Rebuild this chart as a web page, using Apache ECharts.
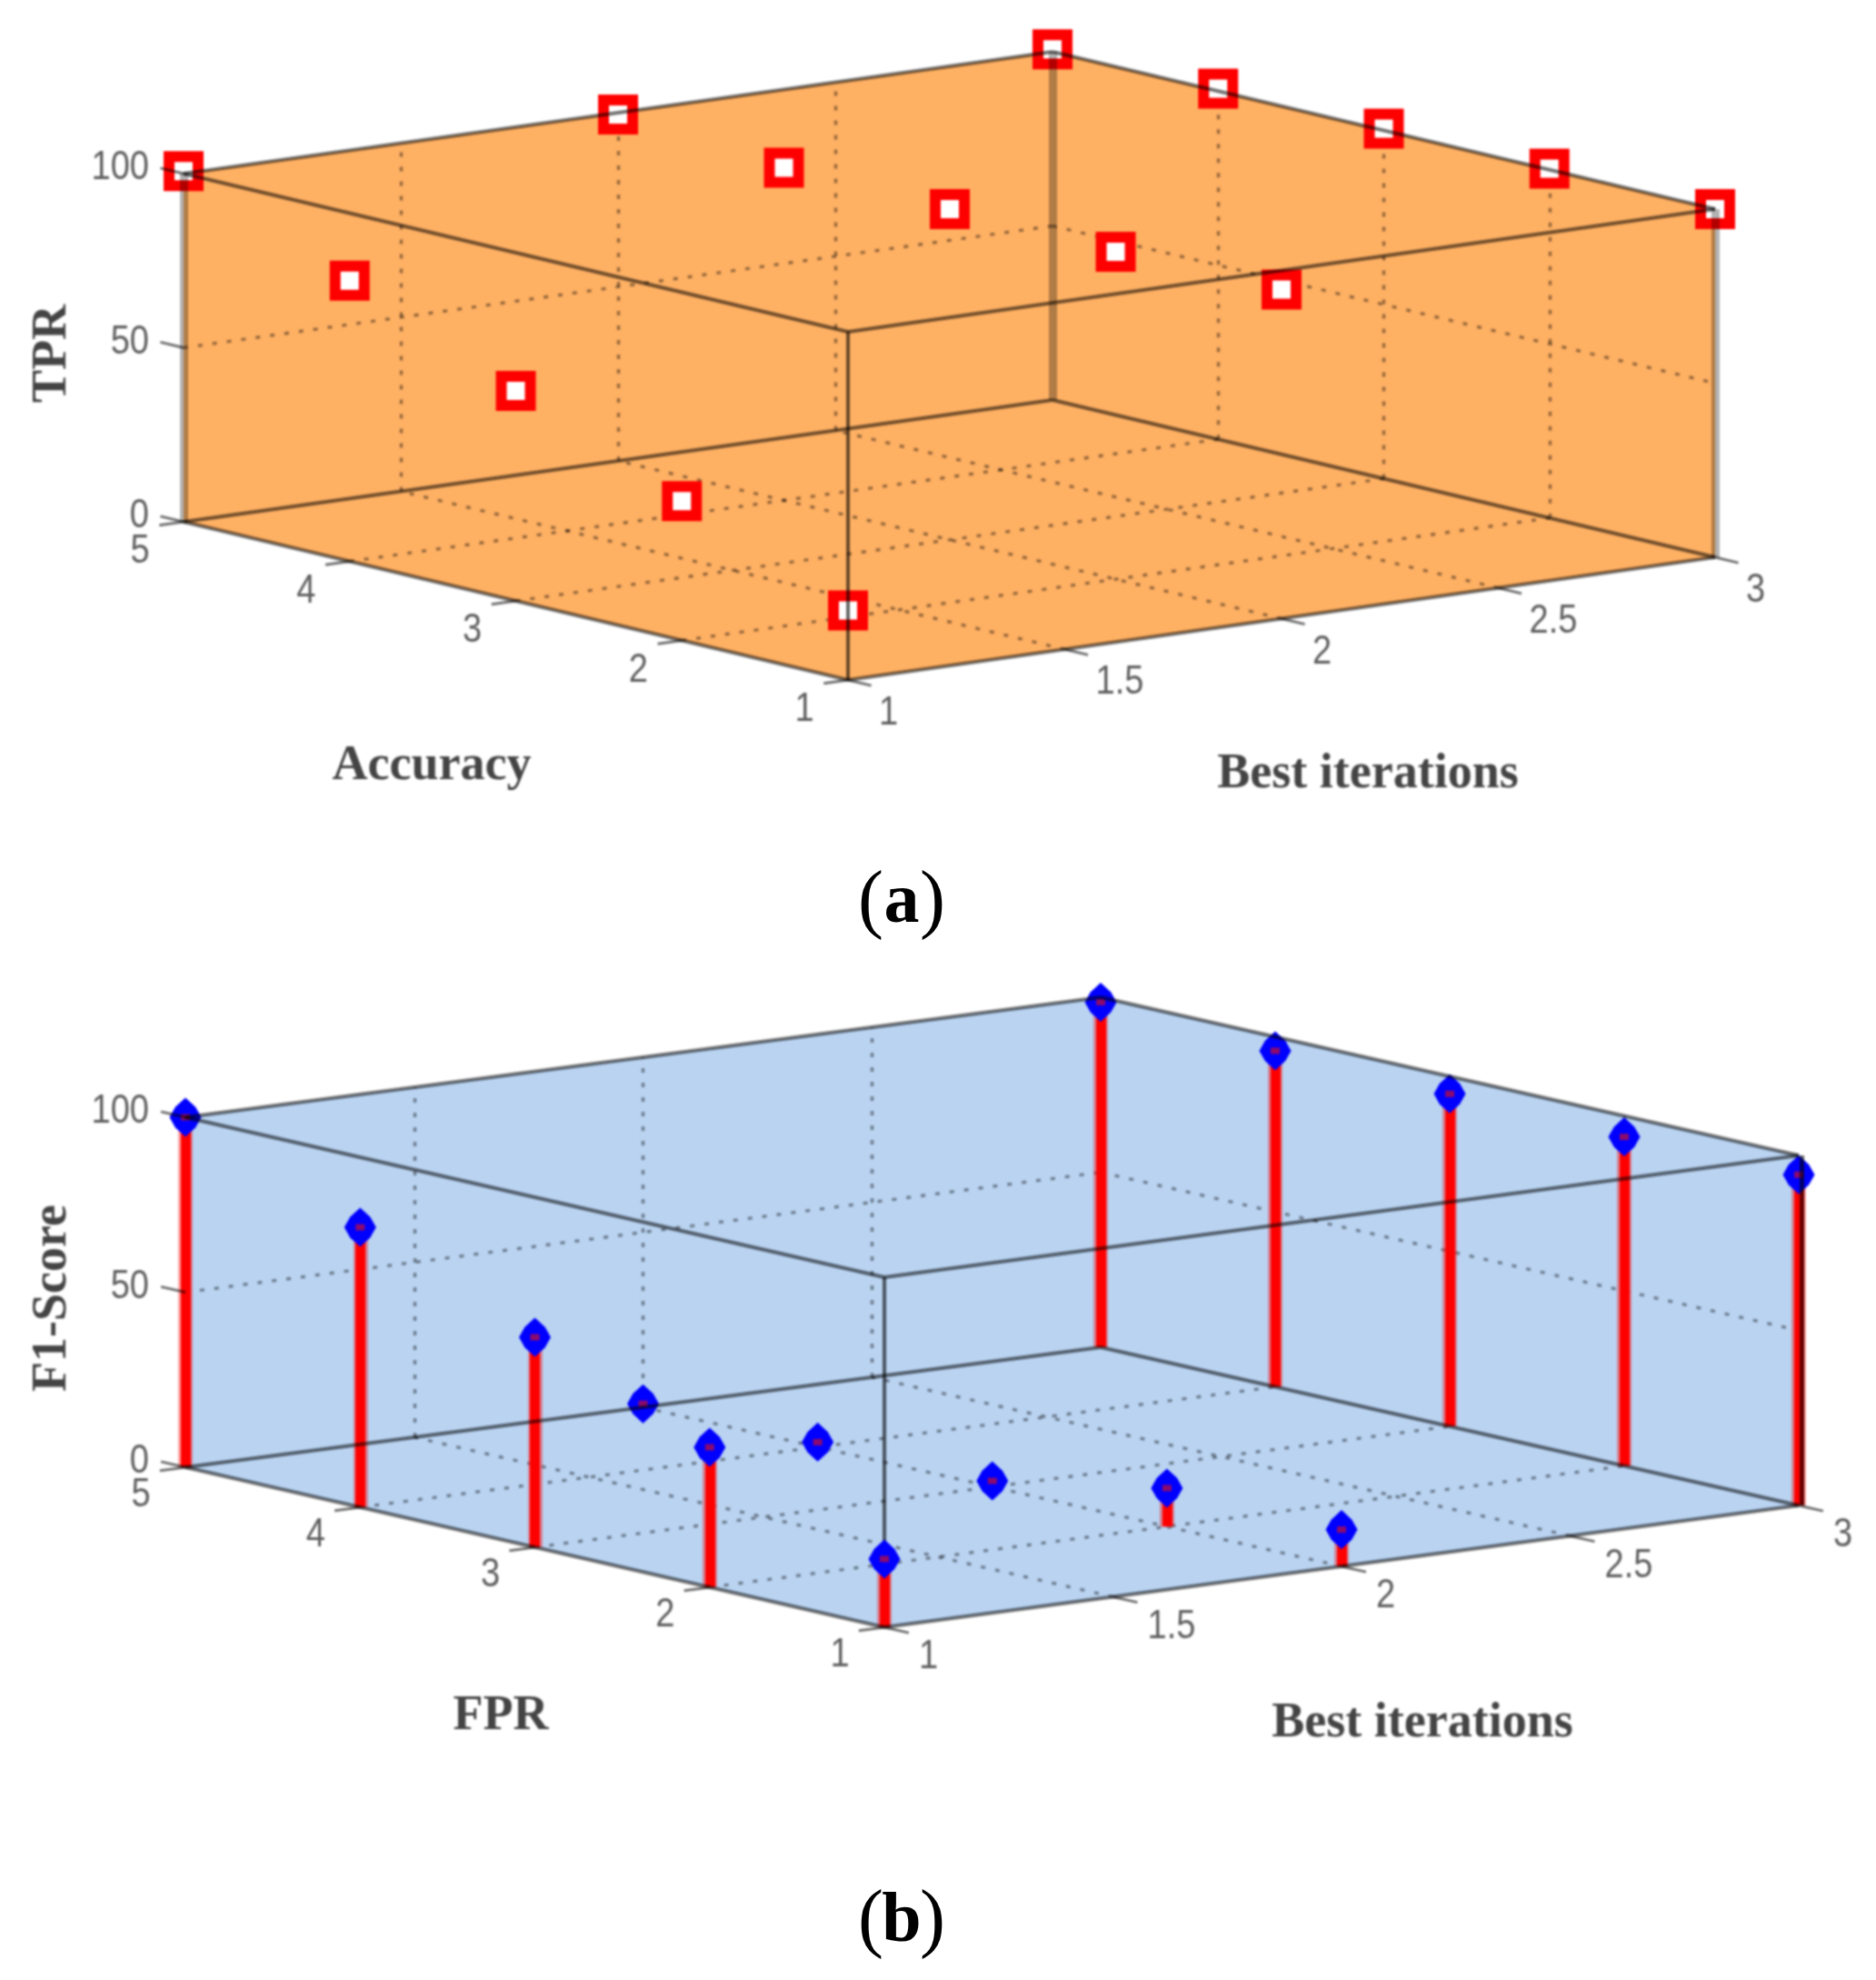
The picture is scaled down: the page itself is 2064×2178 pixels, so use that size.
<!DOCTYPE html>
<html>
<head>
<meta charset="utf-8">
<style>html,body{margin:0;padding:0;background:#fff}
#c,#d{position:absolute;left:0;top:0;width:2064px;height:2178px}
#c{filter:blur(0.9px)}</style>
<script src="https://cdn.jsdelivr.net/npm/echarts@6/dist/echarts.min.js"></script>
</head>
<body>
<div id="c"></div>
<div id="d"></div>
<script>
// Axis ticks
const xTicks = [1, 1.5, 2, 2.5, 3];
const yTicks = [5, 4, 3, 2, 1];
const zTicks = [0, 50, 100];
// Values, one value per yTicks entry
const tprAtIter1 = [100.7, 80.6, 60.3, 40, 20];
const tprAtIter2 = [99.5, 95.5, 95, 94, 94.5];
const tprAtIter3 = [100.7, 100.7, 100.5, 100.3, 100];
const f1AtIter1 = [100, 80, 60, 40, 19.5];
const f1AtIter2 = [1, 1.4, 1.7, 11, 10.5];
const f1AtIter3 = [98.6, 96, 95, 94, 94.5];
const iterations = [1, 2, 3];

// Oblique view of each 3D box: floor corners F(1,1) L(1,5) R(3,1) B(3,5), height
const viewA = {F:[933,748], L:[202,574], R:[1887,613], B:[1158,440], ez:-383, fill:'#feb063',
  zLab:[-38,-6], yLab:[-48,33], xLab:[34,37], rightEdge:[9,0.3,0], soft:true};
const viewB = {F:[973,1790], L:[204,1614], R:[1979,1656], B:[1211,1482], ez:-385, fill:'#b9d3f1',
  zLab:[-40,-6], yLab:[-49,31], xLab:[38,33], rightEdge:[5,0.6,3], soft:false};
[viewA, viewB].forEach(v => {
  v.ex = [v.R[0]-v.F[0], v.R[1]-v.F[1]];
  v.ey = [v.L[0]-v.F[0], v.L[1]-v.F[1]];
});

function project(v, x, y, z) {
  const a = (x - 1) / 2, b = (y - 1) / 4;
  const f = i => (1-a)*(1-b)*v.F[i] + a*(1-b)*v.R[i] + (1-a)*b*v.L[i] + a*b*v.B[i];
  return [f(0), f(1) + z / 100 * v.ez];
}
function seg(p, q, width, opacity, extra) {
  return {coords:[p, q], lineStyle:Object.assign({color:'#000', width:width, opacity:opacity, cap:'butt'}, extra || {})};
}
function boxLines(v) {
  const P = (x, y, z) => project(v, x, y, z), out = [];
  [[P(1,5,0),P(1,1,0)],[P(1,1,0),P(3,1,0)],[P(1,5,0),P(3,5,0)],[P(3,5,0),P(3,1,0)],
   [P(1,5,100),P(3,5,100)],[P(3,5,100),P(3,1,100)],[P(1,5,100),P(1,1,100)],[P(1,1,100),P(3,1,100)]]
   .forEach(s => out.push(seg(s[0], s[1], 4, 0.55)));
  return out;
}
// Vertical edges: over the markers in (a), under the stems in (b)
function edgeLines(v) {
  const P = (x, y, z) => project(v, x, y, z);
  const out = [seg(P(1,1,0), P(1,1,100), 4, 0.6), seg(P(3,5,0), P(3,5,100), 9, 0.3), seg(P(1,5,0), P(1,5,100), 9, 0.3)];
  if (v.soft) out.push(seg(P(3,1,0), P(3,1,100), 9, 0.3));
  return out;
}
function rightEdgeOver(v) {
  const a = project(v,3,1,0), b = project(v,3,1,100), r = v.rightEdge;
  return [seg([a[0]+r[2], a[1]], [b[0]+r[2], b[1]], r[0], r[1])];
}
function gridLines(v) {
  const P = (x, y, z) => project(v, x, y, z), out = [];
  const D = (p, q) => out.push(seg(p, q, 3.4, 0.4, {type:[5, 11]}));
  xTicks.slice(1, -1).forEach(x => { D(P(x,1,0), P(x,5,0)); D(P(x,5,0), P(x,5,100)); });
  yTicks.slice(1, -1).forEach(y => { D(P(1,y,0), P(3,y,0)); D(P(3,y,0), P(3,y,100)); });
  D(P(1,5,50), P(3,5,50)); D(P(3,5,50), P(3,1,50));
  return out;
}
function tickLines(v) {
  const P = (x, y, z) => project(v, x, y, z), out = [];
  const T = (p, d) => out.push(seg(p, [p[0] + d[0], p[1] + d[1]], 3, 0.55));
  yTicks.forEach(y => T(P(1,y,0), [-v.ex[0]*0.028, -v.ex[1]*0.028]));
  xTicks.forEach(x => T(P(x,1,0), [-v.ey[0]*0.035, -v.ey[1]*0.035]));
  zTicks.forEach(z => T(P(1,5,z), [v.ey[0]*0.035, v.ey[1]*0.035]));
  return out;
}
function points(cols) {
  const out = [];
  cols.forEach((col, i) => col.forEach((z, j) => out.push({x:iterations[i], y:yTicks[j], z:z})));
  return out;
}
const pointsA = points([tprAtIter1, tprAtIter2, tprAtIter3]);
const pointsB = points([f1AtIter1, f1AtIter2, f1AtIter3]);
const xy = (v, list) => list.map(d => project(v, d.x, d.y, d.z));

const stems = [];
pointsB.forEach(d => {
  const t = project(viewB, d.x, d.y, d.z), b = project(viewB, d.x, d.y, 0);
  stems.push(seg(t, b, 16, 0.38, {color:'#f00'}));
  stems.push(seg(t, b, 11, 1, {color:'#f00'}));
});

// Text items: text, anchor, style
const texts = [];
function addTickLabels(v) {
  const tick = {font:'Liberation Sans', size:38, weight:'normal', color:'#5f5f5f', sy:1.15};
  zTicks.forEach(z => { const p = project(v,1,5,z); texts.push(Object.assign({t:String(z), p:[p[0]+v.zLab[0], p[1]+v.zLab[1]], align:'right'}, tick)); });
  yTicks.forEach(y => { const p = project(v,1,y,0); texts.push(Object.assign({t:String(y), p:[p[0]+v.yLab[0], p[1]+v.yLab[1]], align:'center'}, tick)); });
  xTicks.forEach(x => { const p = project(v,x,1,0); texts.push(Object.assign({t:String(x), p:[p[0]+v.xLab[0], p[1]+v.xLab[1]], align:'left'}, tick)); });
}
addTickLabels(viewA); addTickLabels(viewB);
const title = {font:'Liberation Serif', size:54, weight:'bold', color:'#444', sy:1, align:'center'};
const titles = [
  ['TPR', [58,389], true], ['Accuracy', [475,843], false], ['Best iterations', [1505,852], false],
  ['F1-Score', [58,1428], true], ['FPR', [551,1888], false], ['Best iterations', [1565,1896], false]
];
titles.forEach(d => texts.push(Object.assign({t:d[0], p:d[1], rot:d[2] ? Math.PI/2 : 0}, title)));

const wallOf = v => [project(v,1,5,0), project(v,1,1,0), project(v,3,1,0), project(v,3,1,100), project(v,3,5,100), project(v,1,5,100)];
const lineOpt = (d, z) => ({type:'lines', coordinateSystem:'cartesian2d', polyline:false, silent:true, data:d, z:z, animation:false});
const polygon = v => ({
  type:'custom', coordinateSystem:'cartesian2d', silent:true, z:1, clip:false, data:[[0,0]],
  renderItem: (params, api) => ({type:'polygon', shape:{points:wallOf(v).map(p => api.coord(p))}, style:{fill:v.fill}})
});
const fatDiamond = 'path://M50 0 L82 24 L100 50 L82 76 L50 100 L18 76 L0 50 L18 24 Z';

const captions = [
  {name:'a', p:[992,994]},
  {name:'b', p:[992,2115]}
];
const frame = {
  animation:false,
  grid:{left:0, right:0, top:0, bottom:0},
  xAxis:{type:'value', min:0, max:2064, show:false},
  yAxis:{type:'value', min:0, max:2178, inverse:true, show:false}
};

const chart = echarts.init(document.getElementById('c'), null, {renderer:'canvas'});
chart.setOption(Object.assign({}, frame, {
  backgroundColor:'#fff',
  series:[
    polygon(viewA),
    polygon(viewB),
    lineOpt(gridLines(viewA).concat(gridLines(viewB), edgeLines(viewB)), 2),
    lineOpt(stems, 3),
    {type:'scatter', z:4, silent:true, symbol:'rect', symbolSize:32, data:xy(viewA, pointsA),
     itemStyle:{color:'#fff', borderColor:'#f00', borderWidth:12, opacity:1}},
    {type:'scatter', z:4, silent:true, symbol:fatDiamond, symbolSize:[35,43], data:xy(viewB, pointsB),
     itemStyle:{color:'#00f', opacity:1}},
    {type:'scatter', z:5, silent:true, symbol:'rect', symbolSize:[10,7], data:xy(viewB, pointsB),
     itemStyle:{color:'#8b0a6e', opacity:1}},
    lineOpt(boxLines(viewA).concat(boxLines(viewB), edgeLines(viewA), rightEdgeOver(viewB), tickLines(viewA), tickLines(viewB)), 6),
    {type:'custom', coordinateSystem:'cartesian2d', silent:true, z:7, clip:false,
     data:texts.map(d => d.p),
     renderItem:(params, api) => {
       const d = texts[params.dataIndex], c = api.coord([api.value(0), api.value(1)]);
       return {type:'text', x:c[0], y:c[1], rotation:d.rot || 0, scaleY:d.sy || 1, originX:0, originY:0,
         style:{text:d.t, x:0, y:0, align:d.align, verticalAlign:'middle', fill:d.color,
                font:d.weight+' '+d.size+'px "'+d.font+'"'}};
     }}
  ]
}));

const captionChart = echarts.init(document.getElementById('d'), null, {renderer:'canvas'});
captionChart.setOption(Object.assign({}, frame, {
  series:[
    {type:'custom', coordinateSystem:'cartesian2d', silent:true, clip:false,
     data:captions.map(d => d.p),
     renderItem:(params, api) => {
       const d = captions[params.dataIndex], c = api.coord([api.value(0), api.value(1)]);
       return {type:'group', children:[
         {type:'text', x:c[0]-20, y:c[1], style:{text:'(', x:0, y:0, align:'right', verticalAlign:'middle', fill:'#000', font:'84px "Liberation Serif"'}},
         {type:'text', x:c[0], y:c[1], style:{text:d.name, x:0, y:0, align:'center', verticalAlign:'middle', fill:'#000', font:'bold 78px "Liberation Serif"'}},
         {type:'text', x:c[0]+20, y:c[1], style:{text:')', x:0, y:0, align:'left', verticalAlign:'middle', fill:'#000', font:'84px "Liberation Serif"'}}
       ]};
     }}
  ]
}));
</script>
</body>
</html>
